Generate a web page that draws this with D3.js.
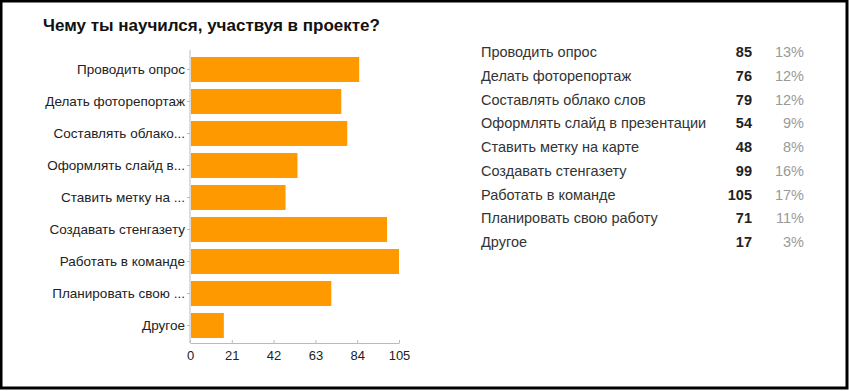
<!DOCTYPE html>
<html><head><meta charset="utf-8">
<script src="https://cdn.jsdelivr.net/npm/d3@7"></script>
<style>body{margin:0;background:#fff}svg{display:block}</style>
</head><body>
<script>
const title = "Чему ты научился, участвуя в проекте?";
const categories = ["Проводить опрос","Делать фоторепортаж","Составлять облако слов","Оформлять слайд в презентации","Ставить метку на карте","Создавать стенгазету","Работать в команде","Планировать свою работу","Другое"];
const axisLabels = ["Проводить опрос","Делать фоторепортаж","Составлять облако...","Оформлять слайд в...","Ставить метку на ...","Создавать стенгазету","Работать в команде","Планировать свою ...","Другое"];
const values = [85,76,79,54,48,99,105,71,17];
const percents = ["13%","12%","12%","9%","8%","16%","17%","11%","3%"];
const xTicks = [0,21,42,63,84,105];

const W=849,H=391;
const FONT="Liberation Sans, Arial, sans-serif";
const svg=d3.select("body").append("svg").attr("width",W).attr("height",H);
svg.append("rect").attr("x",1).attr("y",1).attr("width",W-3).attr("height",H-4)
  .attr("fill","#fff").attr("stroke","#000").attr("stroke-width",3);

svg.append("text").attr("x",43).attr("y",31).text(title)
  .attr("font-family",FONT).attr("font-weight","bold")
  .attr("font-size",17).attr("fill","#111");

const x=d3.scaleLinear().domain([0,105]).range([190,399]);
const y=d3.scaleBand().domain(d3.range(categories.length)).range([53.5,341.5]).paddingInner(0.22).paddingOuter(0.11);

const g=svg.append("g");
g.selectAll("rect.bar").data(values).join("rect").attr("class","bar")
  .attr("x",x(0)+1).attr("y",(d,i)=>y(i)).attr("width",d=>x(d)-x(0)-1).attr("height",y.bandwidth())
  .attr("fill","#ff9900");

const yAxis=g.append("g").attr("transform",`translate(${x(0)},0)`)
  .call(d3.axisLeft(y).tickSize(3).tickSizeOuter(0).tickFormat(i=>axisLabels[i]).tickPadding(2));
yAxis.select(".domain").attr("stroke","#bbb").attr("d","M0,50V343");
yAxis.selectAll(".tick line").attr("stroke","#bbb");
yAxis.selectAll("text").attr("font-family",FONT).attr("font-size",13.5).attr("fill","#222");

const xAxis=g.append("g").attr("transform","translate(0,343)")
  .call(d3.axisBottom(x).tickValues(xTicks).tickSize(-3).tickSizeOuter(0).tickPadding(8));
xAxis.select(".domain").attr("stroke","#bbb");
xAxis.selectAll(".tick line").attr("stroke","#bbb");
xAxis.selectAll("text").attr("font-family",FONT).attr("font-size",13).attr("fill","#222");

const ry=d3.scalePoint().domain(d3.range(categories.length)).range([52,242]);
const leg=svg.append("g").attr("font-family",FONT).attr("font-size",14.5);
leg.selectAll("text.l").data(categories).join("text").attr("class","l")
  .attr("x",481).attr("y",(d,i)=>ry(i)).attr("dy","0.35em").attr("fill","#333").text(d=>d);
leg.selectAll("text.v").data(values).join("text").attr("class","v")
  .attr("x",752).attr("y",(d,i)=>ry(i)).attr("dy","0.35em").attr("text-anchor","end")
  .attr("font-weight","bold").attr("fill","#222").text(d=>d);
leg.selectAll("text.p").data(percents).join("text").attr("class","p")
  .attr("x",804).attr("y",(d,i)=>ry(i)).attr("dy","0.35em").attr("text-anchor","end")
  .attr("fill","#999").text(d=>d);
</script>
</body></html>
